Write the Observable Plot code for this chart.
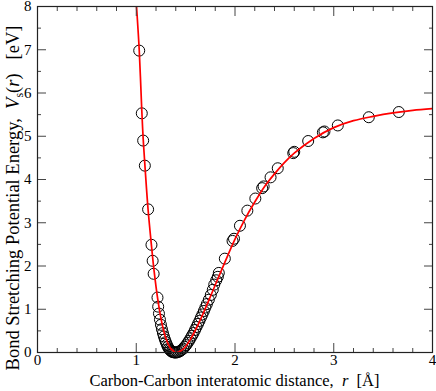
<!DOCTYPE html>
<html><head><meta charset="utf-8">
<script src="https://cdn.jsdelivr.net/npm/d3@7"></script>
<script src="https://cdn.jsdelivr.net/npm/@observablehq/plot@0.6"></script>
<style>
body{margin:0;background:#fff}
svg text, svg tspan { font-family: "Liberation Serif", "Times New Roman", "DejaVu Serif", serif !important; }
</style>
</head><body><div id="chart"></div>
<script>
// Fitted curve (red line)
const curveR = [0.99, 1.003, 1.03, 1.056, 1.07, 1.09, 1.12, 1.155, 1.18, 1.22, 1.26, 1.30, 1.35, 1.41, 1.46, 1.50, 1.55, 1.60, 1.65, 1.70, 1.75, 1.80, 1.90, 2.00, 2.10, 2.20, 2.30, 2.40, 2.50, 2.60, 2.80, 3.00, 3.20, 3.40, 3.60, 3.80, 4.00];
const curveV = [8.45, 8.0, 7.0, 5.6, 4.95, 4.25, 3.3, 2.45, 1.9, 1.2, 0.68, 0.33, 0.09, 0.0, 0.05, 0.14, 0.31, 0.52, 0.76, 1.02, 1.29, 1.56, 2.10, 2.62, 3.08, 3.48, 3.84, 4.13, 4.39, 4.61, 4.95, 5.20, 5.36, 5.46, 5.54, 5.60, 5.64];
// Data points (open circles)
const dataR = [1.03, 1.056, 1.07, 1.087, 1.12, 1.154, 1.166, 1.176, 1.215, 1.222,
  1.23, 1.24, 1.25, 1.26, 1.27, 1.28, 1.29, 1.30, 1.31, 1.32, 1.33, 1.34, 1.35, 1.36, 1.37, 1.38, 1.39,
  1.40, 1.415, 1.43, 1.445, 1.46, 1.475, 1.49, 1.505, 1.52, 1.535, 1.55, 1.565, 1.58, 1.595, 1.61, 1.625, 1.64, 1.655, 1.67, 1.685, 1.70, 1.715, 1.735, 1.755, 1.775, 1.79, 1.81, 1.826, 1.836,
  1.897, 1.975, 1.99, 2.05, 2.125, 2.206, 2.275, 2.29, 2.36, 2.433, 2.59, 2.60, 2.741, 2.89, 2.906, 3.041, 3.355, 3.659];
const dataV = [6.98, 5.53, 4.90, 4.32, 3.31, 2.49, 2.12, 1.82, 1.27, 1.06,
  0.90, 0.76, 0.64, 0.54, 0.45, 0.37, 0.30, 0.24, 0.18, 0.13, 0.09, 0.06, 0.04, 0.02, 0.01, 0.005, 0.0,
  0.0, 0.005, 0.015, 0.035, 0.06, 0.09, 0.13, 0.17, 0.22, 0.27, 0.33, 0.39, 0.45, 0.52, 0.59, 0.66, 0.73, 0.81, 0.88, 0.96, 1.04, 1.12, 1.22, 1.33, 1.45, 1.57, 1.67, 1.75, 1.84,
  2.17, 2.58, 2.63, 2.93, 3.28, 3.56, 3.80, 3.84, 4.05, 4.26, 4.61, 4.64, 4.89, 5.09, 5.11, 5.25, 5.44, 5.56];
const xMajor = [0, 1, 2, 3, 4];
const xMinor = [0.2, 0.4, 0.6, 0.8, 1.2, 1.4, 1.6, 1.8, 2.2, 2.4, 2.6, 2.8, 3.2, 3.4, 3.6, 3.8];
const yMajor = [0, 1, 2, 3, 4, 5, 6, 7, 8];
const yMinor = [0.5, 1.5, 2.5, 3.5, 4.5, 5.5, 6.5, 7.5];

const curve = curveR.map((r, i) => ({r, v: curveV[i]}));
const points = dataR.map((r, i) => ({r, v: dataV[i]}));
const tickColor = "#444";
const blank = () => "";
const serif = "'Liberation Serif', 'Times New Roman', serif";

const plot = Plot.plot({
  width: 436, height: 391,
  marginLeft: 37, marginRight: 4, marginTop: 6, marginBottom: 39,
  style: {fontFamily: serif, fontSize: "15px", background: "white", color: "black", overflow: "visible"},
  x: {domain: [0, 4]},
  y: {domain: [0, 8]},
  marks: [
    Plot.dot(points, {x: "r", y: "v", r: 5.5, stroke: "black", strokeWidth: 1, fill: "none"}),
    Plot.line(curve, {x: "r", y: "v", stroke: "red", strokeWidth: 1.7, curve: "catmull-rom", clip: true}),
    Plot.axisX({ticks: xMajor, tickSize: -9, tickPadding: 11, tickFormat: d => String(d), label: null, stroke: tickColor, fill: "black", fontSize: 15}),
    Plot.axisX({ticks: xMinor, tickSize: -4, tickFormat: blank, label: null, stroke: tickColor}),
    Plot.axisX({anchor: "top", ticks: xMajor, tickSize: -9, tickFormat: blank, label: null, stroke: tickColor}),
    Plot.axisX({anchor: "top", ticks: xMinor, tickSize: -4, tickFormat: blank, label: null, stroke: tickColor}),
    Plot.axisY({ticks: yMajor, tickSize: -9, tickPadding: 15, tickFormat: d => String(d), label: null, stroke: tickColor, fill: "black", fontSize: 15}),
    Plot.axisY({ticks: yMinor, tickSize: -4, tickFormat: blank, label: null, stroke: tickColor}),
    Plot.axisY({anchor: "right", ticks: yMajor, tickSize: -9, tickFormat: blank, label: null, stroke: tickColor}),
    Plot.axisY({anchor: "right", ticks: yMinor, tickSize: -4, tickFormat: blank, label: null, stroke: tickColor}),
    Plot.frame({stroke: "#222", strokeWidth: 1.2})
  ]
});

const svg = d3.select(plot);
const xs = plot.scale("x"), ys = plot.scale("y");
const cx = (xs.range[0] + xs.range[1]) / 2;
const cy = (ys.range[0] + ys.range[1]) / 2;

const xl = svg.append("text")
  .attr("x", cx).attr("y", 386)
  .attr("text-anchor", "middle")
  .style("white-space", "pre")
  .attr("font-family", serif)
  .attr("font-size", 16.5).attr("fill", "black");
xl.append("tspan").text("Carbon-Carbon interatomic distance,  ");
xl.append("tspan").attr("font-style", "italic").text("r");
xl.append("tspan").text("  [Å]");

const yl = svg.append("text")
  .attr("transform", `translate(19,${cy + 19}) rotate(-90)`)
  .attr("text-anchor", "middle")
  .style("white-space", "pre")
  .attr("font-family", serif)
  .attr("font-size", 18.5).attr("fill", "black");
yl.append("tspan").text("Bond Stretching Potential Energy,  ");
yl.append("tspan").attr("font-style", "italic").text("V");
yl.append("tspan").attr("font-size", 12).attr("dy", 4).text("s");
yl.append("tspan").attr("dy", -4).text("(");
yl.append("tspan").attr("font-style", "italic").text("r");
yl.append("tspan").text(")   [eV]");

document.getElementById("chart").appendChild(plot);
</script>
</body></html>
